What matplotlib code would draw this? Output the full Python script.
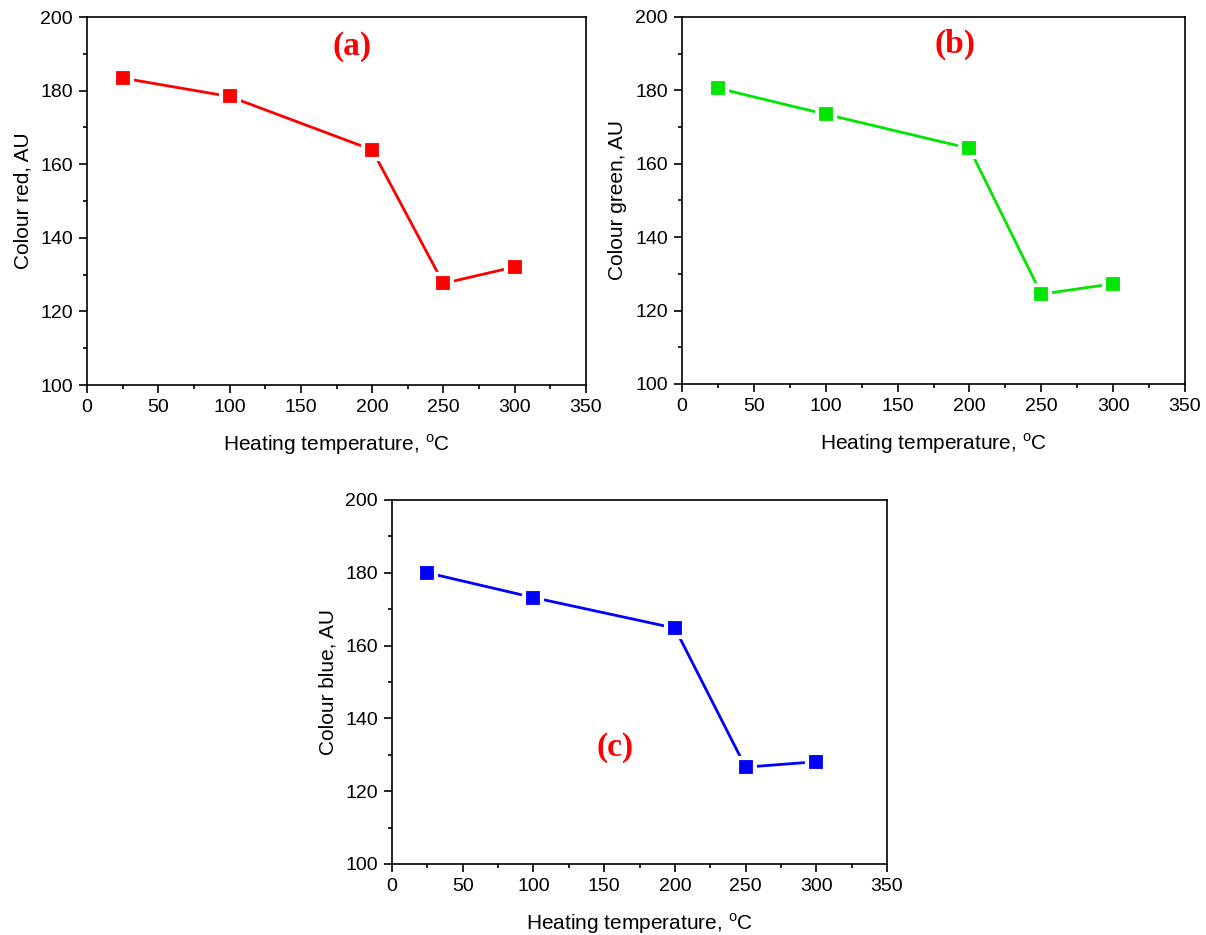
import matplotlib
matplotlib.use("Agg")
import matplotlib.pyplot as plt
from matplotlib.ticker import MultipleLocator

plt.rcParams["font.family"] = ["Liberation Sans", "DejaVu Sans"]
plt.rcParams["mathtext.fontset"] = "custom"
plt.rcParams["mathtext.rm"] = "Liberation Sans"

temperatura = [25, 100, 200, 250, 300]
cor_vermelho = [183.4, 178.4, 163.9, 127.6, 132.1]
cor_verde = [180.6, 173.5, 164.2, 124.5, 127.3]
cor_azul = [180.0, 173.2, 164.8, 126.6, 128.1]

paineis = [
    # (valores, cor, rótulo y, letra, posição da letra, caixa do eixo em px)
    (cor_vermelho, "#ff0000", "Colour red, AU", "(a)", (186, 192), (87, 17, 586, 385)),
    (cor_verde, "#00e600", "Colour green, AU", "(b)", (190, 192.5), (682, 17, 1185, 384)),
    (cor_azul, "#0000ff", "Colour blue, AU", "(c)", (158, 132), (392, 500, 887, 864)),
]

W, H = 1206, 935
fig = plt.figure(figsize=(W / 100, H / 100), dpi=100)

for valores, cor, rotulo_y, letra, pos_letra, (x0, y0, x1, y1) in paineis:
    eixo = fig.add_axes([x0 / W, 1 - y1 / H, (x1 - x0) / W, (y1 - y0) / H])
    # borda branca larga imita o espaço entre linha e marcador do Origin
    eixo.plot(
        temperatura, valores, color=cor, lw=2, marker="s", markersize=13,
        markerfacecolor=cor, markeredgecolor="white", markeredgewidth=3,
    )
    eixo.set_xlim(0, 350)
    eixo.set_ylim(100, 200)
    eixo.xaxis.set_major_locator(MultipleLocator(50))
    eixo.xaxis.set_minor_locator(MultipleLocator(25))
    eixo.yaxis.set_major_locator(MultipleLocator(20))
    eixo.yaxis.set_minor_locator(MultipleLocator(10))
    eixo.tick_params(which="both", direction="out", top=False, right=False,
                     labelsize=14, width=1.2)
    eixo.tick_params(which="major", length=6, pad=4)
    eixo.tick_params(which="minor", length=3)
    for lado in eixo.spines.values():
        lado.set_linewidth(1.2)
    eixo.set_xlabel(r"Heating temperature, $^{\rm o}$C", fontsize=15, labelpad=12)
    eixo.set_ylabel(rotulo_y, fontsize=15, labelpad=6)
    eixo.text(pos_letra[0], pos_letra[1], letra, color="red", fontsize=24,
              fontweight="bold", family=["Liberation Serif", "DejaVu Serif"],
              ha="center", va="center")

fig.savefig("out.png", dpi=100)
